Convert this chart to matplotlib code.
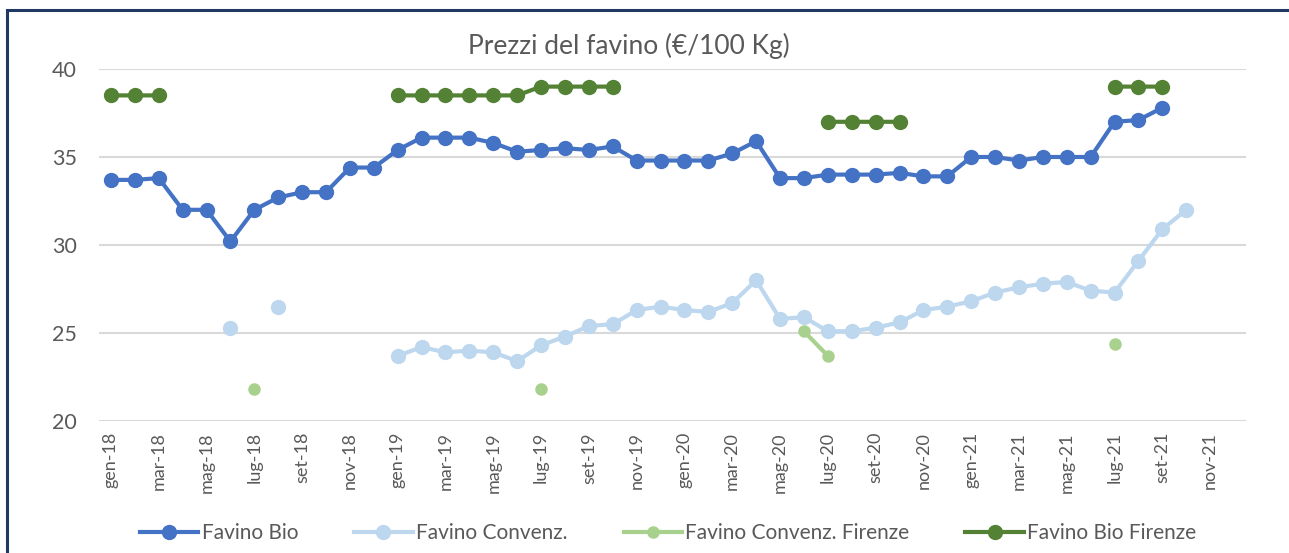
import numpy as np
import matplotlib.pyplot as plt
from matplotlib.patches import Rectangle

plt.rcParams["font.family"] = ["Lato", "DejaVu Sans"]

mesi = ["gen", "feb", "mar", "apr", "mag", "giu", "lug", "ago", "set", "ott", "nov", "dic"]
anni = ["18", "19", "20", "21"]
categorie = [f"{m}-{a}" for a in anni for m in mesi]

nan = np.nan
favino_bio = [33.7, 33.7, 33.8, 32.0, 32.0, 30.2, 32.0, 32.7, 33.0, 33.0, 34.4, 34.4,
              35.4, 36.1, 36.1, 36.1, 35.8, 35.3, 35.4, 35.5, 35.4, 35.6, 34.8, 34.8,
              34.8, 34.8, 35.2, 35.9, 33.8, 33.8, 34.0, 34.0, 34.0, 34.1, 33.9, 33.9,
              35.0, 35.0, 34.8, 35.0, 35.0, 35.0, 37.0, 37.1, 37.8, nan, nan, nan]
favino_conv = [nan, nan, nan, nan, nan, 25.3, nan, 26.5, nan, nan, nan, nan,
               23.7, 24.2, 23.9, 24.0, 23.9, 23.4, 24.3, 24.8, 25.4, 25.5, 26.3, 26.5,
               26.3, 26.2, 26.7, 28.0, 25.8, 25.9, 25.1, 25.1, 25.3, 25.6, 26.3, 26.5,
               26.8, 27.3, 27.6, 27.8, 27.9, 27.4, 27.3, 29.1, 30.9, 32.0, nan, nan]
favino_conv_fi = [nan] * 48
favino_conv_fi[6] = 21.8
favino_conv_fi[18] = 21.8
favino_conv_fi[29] = 25.1
favino_conv_fi[30] = 23.7
favino_conv_fi[42] = 24.4
favino_bio_fi = [38.5, 38.5, 38.5, nan, nan, nan, nan, nan, nan, nan, nan, nan,
                 38.5, 38.5, 38.5, 38.5, 38.5, 38.5, 39.0, 39.0, 39.0, 39.0, nan, nan,
                 nan, nan, nan, nan, nan, nan, 37.0, 37.0, 37.0, 37.0, nan, nan,
                 nan, nan, nan, nan, nan, nan, 39.0, 39.0, 39.0, nan, nan, nan]

grigio = "#595959"
fig = plt.figure(figsize=(12.89, 5.53), dpi=100)
ax = fig.add_axes([99 / 1289, 1 - 421 / 553, (1246 - 99) / 1289, (421 - 69) / 553])

x = np.arange(len(categorie))
ax.plot(x, favino_bio, "-o", color="#4472C4", lw=3, ms=10, label="Favino Bio", zorder=4)
ax.plot(x, favino_conv, "-o", color="#BDD7EE", lw=3, ms=10, label="Favino Convenz.", zorder=3)
ax.plot(x, favino_conv_fi, "-o", color="#A9D18E", lw=3, ms=8, label="Favino Convenz. Firenze", zorder=3)
ax.plot(x, favino_bio_fi, "-o", color="#548235", lw=3, ms=10, label="Favino Bio Firenze", zorder=4)

ax.set_xlim(-0.5, len(categorie) - 0.5)
ax.set_ylim(20, 40)
ax.set_yticks([20, 25, 30, 35, 40])
ax.set_xticks(x[::2])
ax.set_xticklabels(categorie[::2], rotation=90)
ax.grid(axis="y", color="#D9D9D9", lw=1.5)
ax.set_axisbelow(True)
for s in ax.spines.values():
    s.set_visible(False)
ax.tick_params(length=0, colors=grigio)
ax.tick_params(axis="y", labelsize=15.5, pad=16)
ax.tick_params(axis="x", labelsize=13, pad=8)

fig.text(629 / 1289, 1 - 46 / 553, "Prezzi del favino (€/100 Kg)", ha="center", va="center",
         fontsize=19, color=grigio)

fig.legend(loc="center", bbox_to_anchor=(668 / 1289, 1 - 533 / 553), ncol=4, frameon=False,
           fontsize=15, handlelength=2.8, numpoints=1, columnspacing=2.7, labelcolor=grigio,
           handletextpad=0.15)

fig.patches.append(Rectangle((7 / 1289, -0.1), 1.2, 1 - 10 / 553 + 0.1, transform=fig.transFigure,
                             fill=False, edgecolor="#1F3864", lw=2.2))

fig.savefig("out.png", dpi=100)
